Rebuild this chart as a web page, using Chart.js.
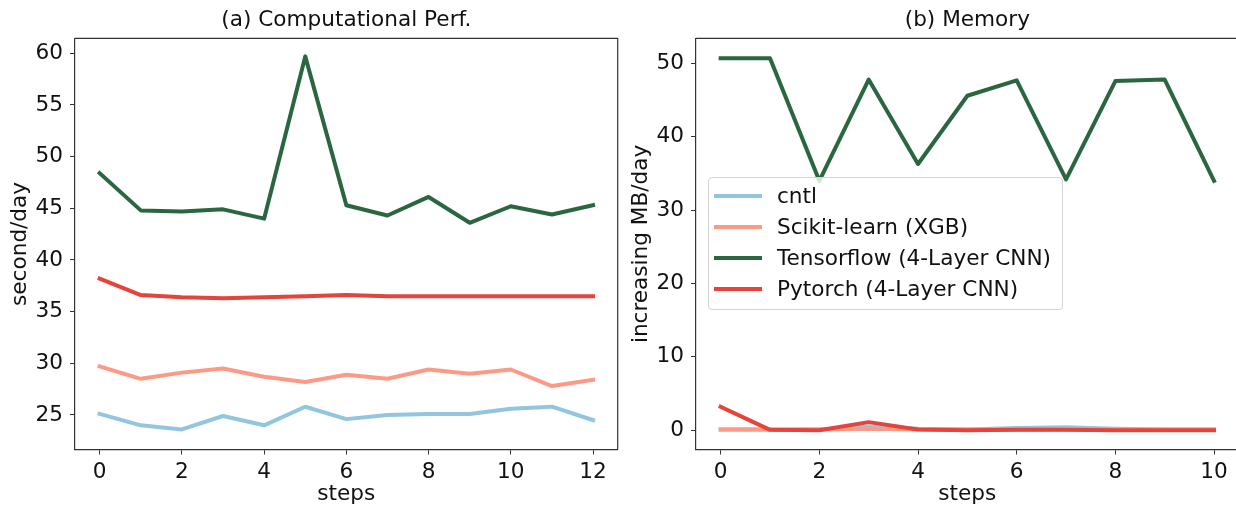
<!DOCTYPE html>
<html>
<head>
<meta charset="utf-8">
<script src="https://cdn.jsdelivr.net/npm/chart.js@4.4.1/dist/chart.umd.min.js"></script>
<style>
  html, body { margin: 0; padding: 0; background: #fff; overflow: hidden; width: 1236px; height: 508px; }
  .panel { position: absolute; top: 0; width: 620px; height: 508px; }
  #legend { position: absolute; left: 708px; top: 177px; width: 353px; height: 131px;
    background: rgba(255,255,255,0.8); border: 1px solid #d4d4d4; border-radius: 4px;
    font-family: "DejaVu Sans"; font-size: 21.6px; color: #111; }
  .row { position: absolute; left: 0; height: 31px; line-height: 31px; }
  .swatch { position: absolute; left: 5px; top: 14px; width: 48px; height: 4px; }
  .lbl { position: absolute; left: 68px; white-space: nowrap; }
</style>
</head>
<body>
<div class="panel" style="left:0"><canvas id="perfChart"></canvas></div>
<div class="panel" style="left:621px"><canvas id="memChart"></canvas></div>
<div id="legend"></div>

<script>
// series names and colours
const seriesNames = ['cntl', 'Scikit-learn (XGB)', 'Tensorflow (4-Layer CNN)', 'Pytorch (4-Layer CNN)'];
const seriesColors = ['#92c5de', '#fc9a85', '#2a6640', '#e6433b'];

// (a) Computational Perf. - second/day
const perfSteps = [0, 1, 2, 3, 4, 5, 6, 7, 8, 9, 10, 11, 12];
const perfCntl = [25.1, 24.0, 23.6, 24.9, 24.0, 25.8, 24.6, 25.0, 25.1, 25.1, 25.6, 25.8, 24.5];
const perfSklearn = [29.7, 28.5, 29.1, 29.5, 28.7, 28.2, 28.9, 28.5, 29.4, 29.0, 29.4, 27.8, 28.4];
const perfTensorflow = [48.4, 44.8, 44.7, 44.9, 44.0, 59.7, 45.3, 44.3, 46.1, 43.6, 45.2, 44.4, 45.3];
const perfPytorch = [38.2, 36.6, 36.4, 36.3, 36.4, 36.5, 36.6, 36.5, 36.5, 36.5, 36.5, 36.5, 36.5];
const perfXTicks = [0, 2, 4, 6, 8, 10, 12];
const perfYTicks = [25, 30, 35, 40, 45, 50, 55, 60];

// (b) Memory - increasing MB/day
const memSteps = [0, 1, 2, 3, 4, 5, 6, 7, 8, 9, 10];
const memCntl = [0.1, 0.1, 0.1, 0.5, 0.2, 0.1, 0.3, 0.4, 0.2, 0.1, 0.1];
const memSklearn = [0.1, 0.1, 0.1, 0.2, 0.1, 0.1, 0.1, 0.1, 0.1, 0.1, 0.1];
const memTensorflow = [50.7, 50.7, 34.0, 47.8, 36.3, 45.6, 47.7, 34.2, 47.6, 47.8, 34.0];
const memPytorch = [3.2, 0.05, 0.0, 1.1, 0.1, 0.0, 0.05, 0.05, 0.0, 0.0, 0.0];
const memXTicks = [0, 2, 4, 6, 8, 10];
const memYTicks = [0, 10, 20, 30, 40, 50];

const FONT = { family: 'DejaVu Sans', size: 21.6 };
const TEXT = '#111';

// matplotlib style box: top and right edges of the axes
const framePlugin = {
  id: 'frame',
  afterDraw(chart) {
    const a = chart.chartArea, ctx = chart.ctx;
    ctx.save();
    ctx.strokeStyle = '#333';
    ctx.lineWidth = 1.2;
    ctx.beginPath();
    ctx.moveTo(a.left, a.top);
    ctx.lineTo(a.right, a.top);
    ctx.lineTo(a.right, a.bottom);
    ctx.stroke();
    ctx.restore();
  }
};

function buildDatasets(steps, series) {
  return series.map((vals, i) => ({
    label: seriesNames[i],
    data: steps.map((s, j) => ({ x: s, y: vals[j] })),
    borderColor: seriesColors[i],
    backgroundColor: seriesColors[i],
    borderWidth: 4,
    borderCapStyle: 'square',
    borderJoinStyle: 'round',
    pointRadius: 0,
    tension: 0,
    order: series.length - i   // later series drawn on top, like matplotlib
  }));
}

function buildOptions(title, yLabel, xRange, yRange, xTicks, yTicks) {
  return {
    responsive: true,
    maintainAspectRatio: false,
    animation: false,
    layout: { padding: { top: 0, right: 2.3, bottom: 0, left: 0 } },
    plugins: {
      legend: { display: false },
      tooltip: { enabled: false },
      title: {
        display: true,
        fullSize: false,
        text: title,
        color: TEXT,
        font: { ...FONT, weight: 'normal' },
        padding: { top: 7.7, bottom: 4.7 }
      }
    },
    scales: {
      x: {
        type: 'linear',
        min: xRange[0],
        max: xRange[1],
        afterFit: s => { s.height = 58.5; },
        afterBuildTicks: s => { s.ticks = xTicks.map(v => ({ value: v })); },
        ticks: { color: TEXT, font: FONT, padding: 4.5, maxRotation: 0, autoSkip: false },
        grid: { display: true, drawOnChartArea: false, drawTicks: true, tickLength: 5, color: '#333' },
        border: { display: true, color: '#333', width: 1.2 },
        title: { display: true, text: 'steps', color: TEXT, font: FONT, padding: { top: 0, bottom: 1 } }
      },
      y: {
        type: 'linear',
        min: yRange[0],
        max: yRange[1],
        afterFit: s => { s.width = 75; },
        afterBuildTicks: s => { s.ticks = yTicks.map(v => ({ value: v })); },
        ticks: { color: TEXT, font: FONT, padding: 7 },
        grid: { display: true, drawOnChartArea: false, drawTicks: true, tickLength: 5, color: '#333' },
        border: { display: true, color: '#333', width: 1.2 },
        title: { display: true, text: yLabel, color: TEXT, font: FONT, padding: { top: 7, bottom: 0 } }
      }
    }
  };
}

new Chart(document.getElementById('perfChart'), {
  type: 'line',
  data: { datasets: buildDatasets(perfSteps, [perfCntl, perfSklearn, perfTensorflow, perfPytorch]) },
  options: buildOptions('(a) Computational Perf.', 'second/day', [-0.6, 12.6], [21.66, 61.45], perfXTicks, perfYTicks),
  plugins: [framePlugin]
});

new Chart(document.getElementById('memChart'), {
  type: 'line',
  data: { datasets: buildDatasets(memSteps, [memCntl, memSklearn, memTensorflow, memPytorch]) },
  options: buildOptions('(b) Memory', 'increasing MB/day', [-0.5, 10.5], [-2.63, 53.43], memXTicks, memYTicks),
  plugins: [framePlugin]
});

// legend box drawn inside panel (b)
const legend = document.getElementById('legend');
seriesNames.forEach((name, i) => {
  const row = document.createElement('div');
  row.className = 'row';
  row.style.top = (2 + i * 31) + 'px';
  row.innerHTML = '<span class="swatch" style="background:' + seriesColors[i] + '"></span><span class="lbl">' + name + '</span>';
  legend.appendChild(row);
});
</script>
</body>
</html>
